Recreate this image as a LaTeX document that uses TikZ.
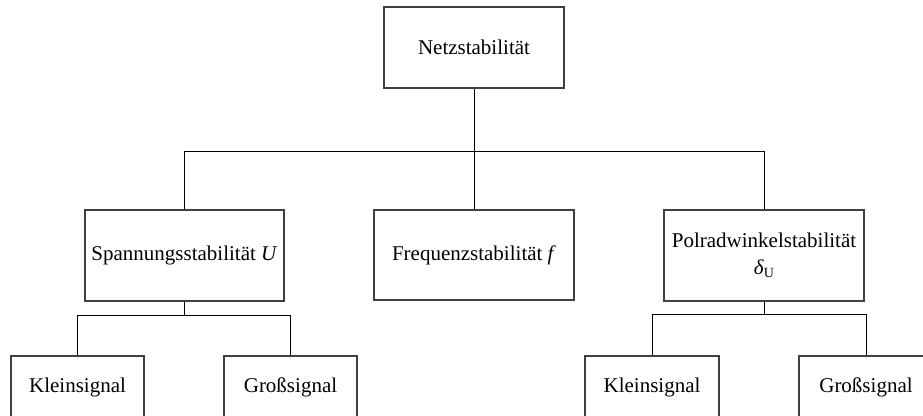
\documentclass[tikz,border=0pt]{standalone}
\usepackage{fontspec}
\setmainfont{Liberation Serif}
\begin{document}
\begin{tikzpicture}[x=0.5pt,y=-0.5pt,
  box/.style={draw=black!75,line width=0.6pt,rectangle,inner sep=0pt,align=center,font=\fontsize{10.5}{13.5}\selectfont},
  conn/.style={draw=black,line width=0.5pt}]
\clip (0,0) rectangle (923,416);
\useasboundingbox (0,0) rectangle (923,416);
\node[box,minimum width=90pt,minimum height=40.5pt] (top) at (474,47.5) {Netzstabilität};
\node[box,minimum width=99.5pt,minimum height=45.5pt] (span) at (184.5,255.5) {Spannungsstabilität \textit{U}};
\node[box,minimum width=100pt,minimum height=45pt] (freq) at (474,255) {Frequenzstabilität \textit{f}};
\node[box,minimum width=100pt,minimum height=45.5pt] (pol) at (764,255.5) {Polradwinkelstabilität\\\textit{δ}\raisebox{-0.35ex}{\scriptsize U}};
\node[box,minimum width=66.5pt,minimum height=31pt] (k1) at (77.5,387) {Kleinsignal};
\node[box,minimum width=66.5pt,minimum height=31pt] (g1) at (290.5,387) {Großsignal};
\node[box,minimum width=67pt,minimum height=31pt] (k2) at (652,387) {Kleinsignal};
\node[box,minimum width=67pt,minimum height=31pt] (g2) at (866,387) {Großsignal};
\coordinate (b1) at (0,152);
\coordinate (b2) at (0,316);
\coordinate (b3) at (0,315);
\draw[conn] (top.south) -- (top.south |- b1);
\draw[conn] (span.north) -- (span.north |- b1) -- (pol.north |- b1) -- (pol.north);
\draw[conn] (freq.north) -- (freq.north |- b1);
\draw[conn] (span.south) -- (span.south |- b2);
\draw[conn] (k1.north) -- (k1.north |- b2) -- (g1.north |- b2) -- (g1.north);
\draw[conn] (pol.south) -- (pol.south |- b3);
\draw[conn] (k2.north) -- (k2.north |- b3) -- (g2.north |- b3) -- (g2.north);
\end{tikzpicture}
\end{document}
